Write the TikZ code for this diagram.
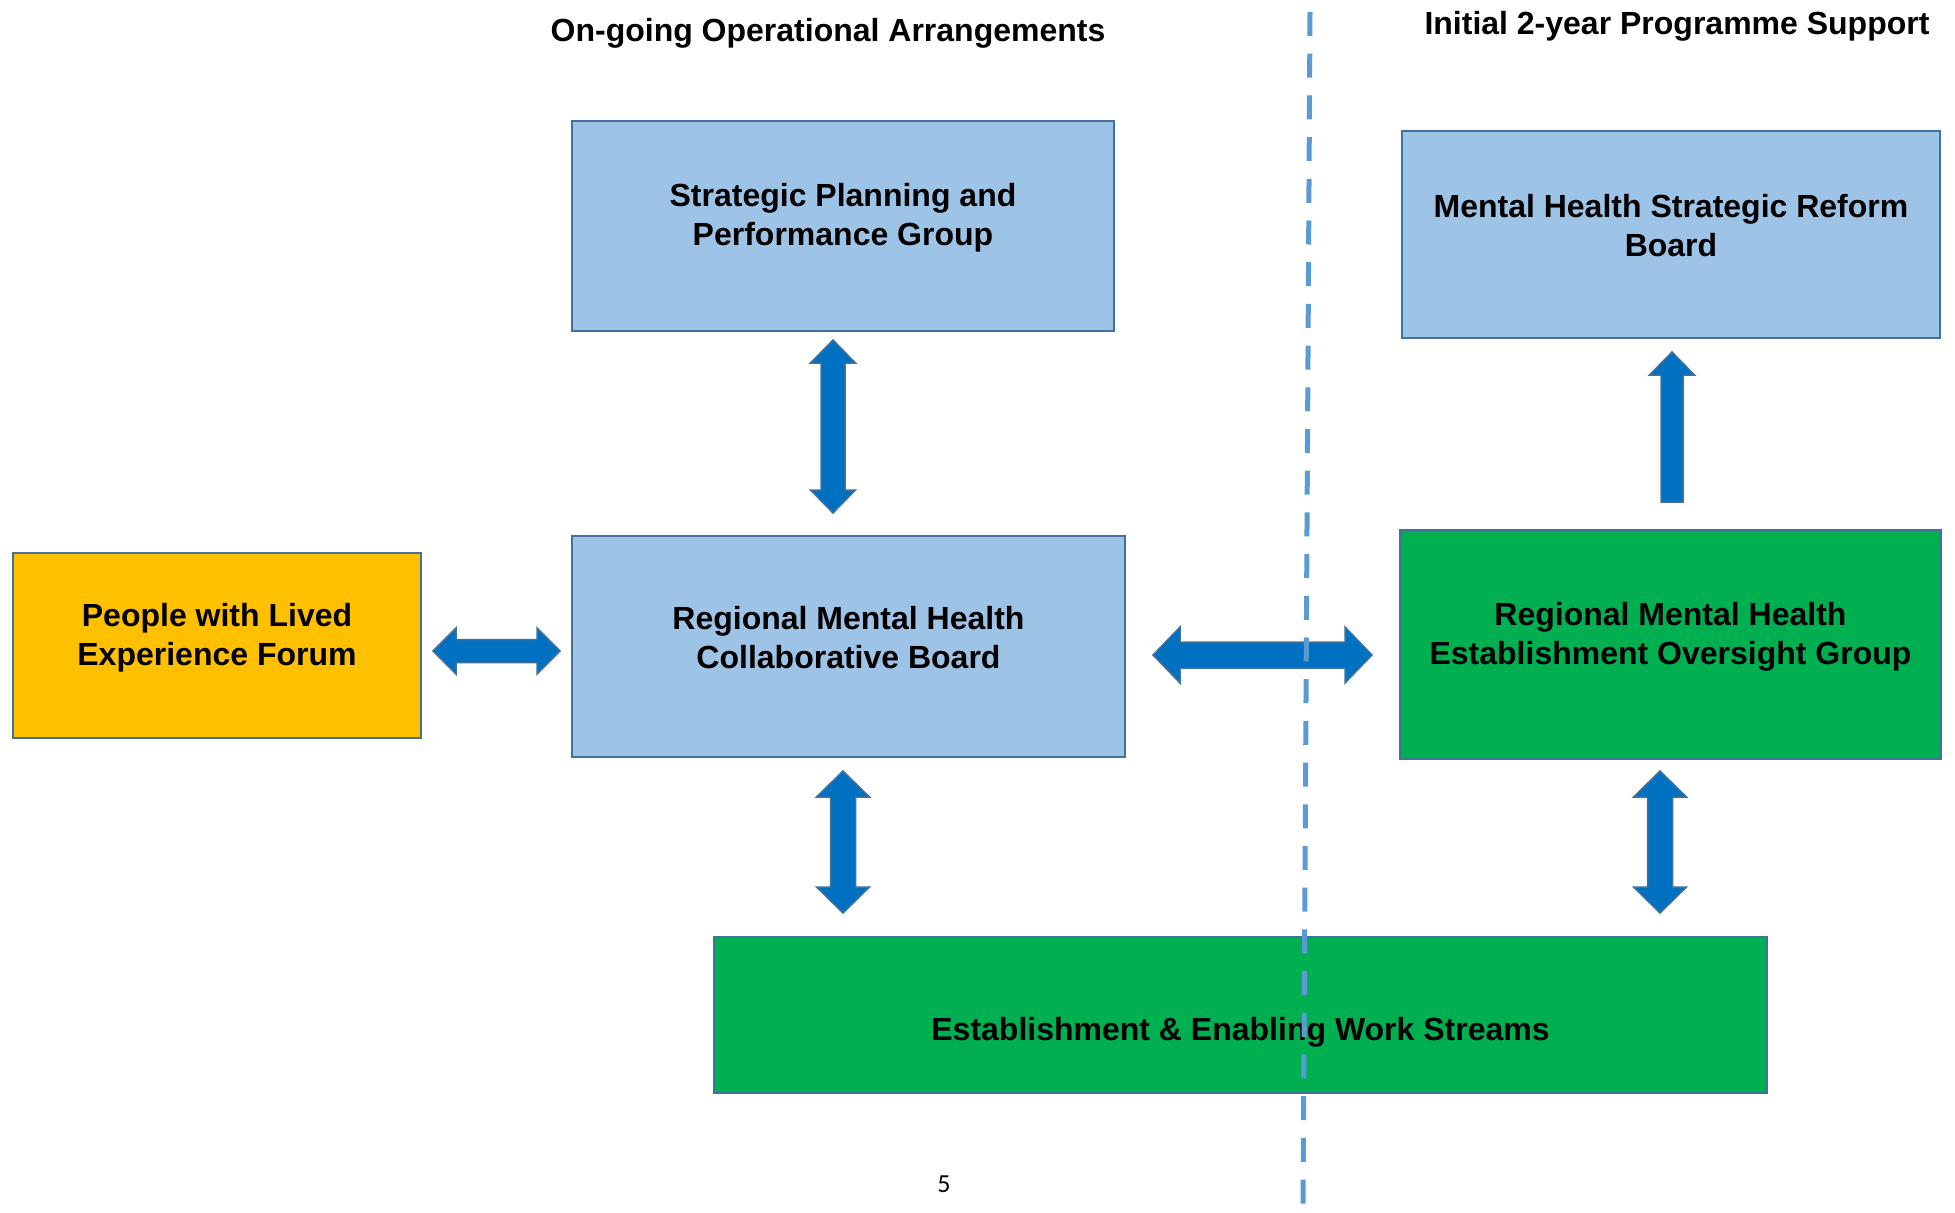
\documentclass[tikz,border=0pt]{standalone}
\usepackage{fontspec}
\setmainfont{Liberation Sans}
\newfontfamily\pagefont{Carlito}
\usetikzlibrary{calc}

\definecolor{boxblue}{HTML}{9DC3E6}
\definecolor{boxedge}{HTML}{41719C}
\definecolor{boxgreen}{HTML}{00B050}
\definecolor{boxgold}{HTML}{FFC000}
\definecolor{arrowblue}{HTML}{0070C0}
\definecolor{dividerblue}{HTML}{5B9BD5}

\tikzset{
  box/.style={draw=boxedge, line width=2.5pt, rectangle, inner sep=0pt, outer sep=0pt},
  bluebox/.style={box, fill=boxblue},
  greenbox/.style={box, fill=boxgreen},
  goldbox/.style={box, fill=boxgold},
  boxtext/.style={font=\bfseries\fontsize{32}{39}\selectfont, align=center, inner sep=0pt},
  heading/.style={font=\bfseries\fontsize{32}{39}\selectfont, inner sep=0pt, anchor=base},
  blockarrow/.style={fill=arrowblue, draw=boxedge, line width=1.5pt, line join=miter},
  divider/.style={draw=dividerblue, line width=5pt, dash pattern=on 24pt off 17.7pt},
}

% vertical two-headed block arrow: upper tip, lower tip, shaft half-width, head half-width, head length
\newcommand{\vblockarrow}[5]{%
  \draw[blockarrow] (#1) -- ($(#1)+(#4,#5)$) -- ($(#1)+(#3,#5)$) -- ($(#2)+(#3,-#5)$)
    -- ($(#2)+(#4,-#5)$) -- (#2) -- ($(#2)+(-#4,-#5)$) -- ($(#2)+(-#3,-#5)$)
    -- ($(#1)+(-#3,#5)$) -- ($(#1)+(-#4,#5)$) -- cycle;}
% horizontal two-headed block arrow: left tip, right tip, shaft half-width, head half-width, head length
\newcommand{\hblockarrow}[5]{%
  \draw[blockarrow] (#1) -- ($(#1)+(#5,-#4)$) -- ($(#1)+(#5,-#3)$) -- ($(#2)+(-#5,-#3)$)
    -- ($(#2)+(-#5,-#4)$) -- (#2) -- ($(#2)+(-#5,#4)$) -- ($(#2)+(-#5,#3)$)
    -- ($(#1)+(#5,#3)$) -- ($(#1)+(#5,#4)$) -- cycle;}
% upward single-headed block arrow: tip, tail, shaft half-width, head half-width, head length
\newcommand{\upblockarrow}[5]{%
  \draw[blockarrow] (#1) -- ($(#1)+(#4,#5)$) -- ($(#1)+(#3,#5)$) -- ($(#2)+(#3,0)$)
    -- ($(#2)+(-#3,0)$) -- ($(#1)+(-#3,#5)$) -- ($(#1)+(-#4,#5)$) -- cycle;}

\begin{document}
\begin{tikzpicture}[x=1pt, y=-1pt]
  \fill[white] (0,0) rectangle (1955,1213);
  \useasboundingbox (0,0) rectangle (1955,1213);

  % column headings
  \node[heading] (lefthead) at (828,41) {On-going Operational Arrangements};
  \node[heading] (righthead) at (1677,34) {Initial 2-year Programme Support};

  % boxes
  \node[goldbox,  minimum width=408,  minimum height=185] (forum)     at (217,645.5) {};
  \node[bluebox,  minimum width=542,  minimum height=210] (spg)       at (843,226) {};
  \node[bluebox,  minimum width=553,  minimum height=221] (rcb)       at (848.5,646.5) {};
  \node[bluebox,  minimum width=538,  minimum height=207] (reform)    at (1671,234.5) {};
  \node[greenbox, minimum width=541,  minimum height=229] (oversight) at (1670.5,644.5) {};
  \node[greenbox, minimum width=1053, minimum height=156] (streams)   at (1240.5,1015) {};

  % box titles
  \node[boxtext] (forumtext)     at ($(forum.center)+(0,-7.5)$) {People with Lived\\Experience Forum};
  \node[boxtext] (spgtext)       at ($(spg.center)+(0,-8)$) {Strategic Planning and\\Performance Group};
  \node[boxtext] (rcbtext)       at ($(rcb.center)+(0,-8.5)$) {Regional Mental Health\\Collaborative Board};
  \node[boxtext] (reformtext)    at ($(reform.center)+(0,-8.5)$) {Mental Health Strategic Reform\\Board};
  \node[boxtext] (oversighttext) at ($(oversight.center)+(0,-7.5)$) {Regional Mental Health\\Establishment Oversight Group};
  \node[boxtext] (streamstext)   at ($(streams.center)+(0,17)$) {Establishment \& Enabling Work Streams};

  % arrow end points
  \coordinate (a1top) at ($(spg.south)+(-10,9)$);
  \coordinate (a1bot) at ($(rcb.north)+(-15.5,-23)$);
  \coordinate (a2left) at ($(forum.east)+(12,5.5)$);
  \coordinate (a2right) at ($(rcb.west)+(-12,4.5)$);
  \coordinate (a3left) at ($(rcb.east)+(28,8.5)$);
  \coordinate (a3right) at ($(oversight.west)+(-28,10.5)$);
  \coordinate (a4top) at ($(rcb.south)+(-5.5,14)$);
  \coordinate (a4bot) at ($(rcb.south |- streams.north)+(-5.5,-24)$);
  \coordinate (a5top) at ($(oversight.south)+(-10.5,12)$);
  \coordinate (a5bot) at ($(oversight.south |- streams.north)+(-10.5,-24)$);
  \coordinate (a6tip) at ($(reform.south)+(1,14)$);
  \coordinate (a6tail) at ($(oversight.north)+(1.5,-28)$);

  % block arrows
  \vblockarrow{a1top}{a1bot}{12}{22.5}{23}
  \hblockarrow{a2left}{a2right}{11.5}{23}{23}
  \hblockarrow{a3left}{a3right}{13}{28}{27}
  \vblockarrow{a4top}{a4bot}{12.5}{26.5}{26}
  \vblockarrow{a5top}{a5bot}{12.5}{26.5}{26}
  \upblockarrow{a6tip}{a6tail}{11}{22.5}{23}

  % page number
  \node[font=\pagefont\fontsize{26}{30}\selectfont, inner sep=0pt] (pageno) at (944,1184) {5};

  % dashed divider between the two columns
  \coordinate (divtop) at (1310,12);
  \coordinate (divbot) at (1303,1213);
  \draw[divider] (divtop) -- (divbot);
\end{tikzpicture}
\end{document}
